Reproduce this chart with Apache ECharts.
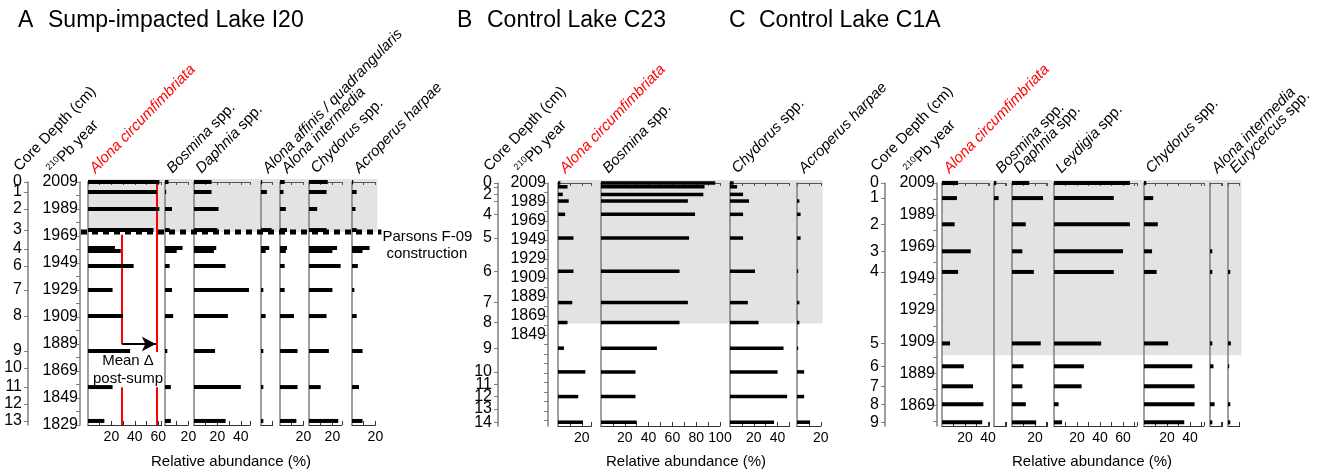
<!DOCTYPE html>
<html><head><meta charset="utf-8">
<script src="https://cdn.jsdelivr.net/npm/echarts@6/dist/echarts.min.js"></script>
<style>html,body{margin:0;padding:0;background:#fff}#c{width:1324px;height:471px}</style>
</head><body><div id="c"></div>
<script>
const BASE = 2009;
// ---------- Panel A: Sump-impacted Lake I20 ----------
const yearA = [2009, 2001.6, 1989, 1973.4, 1960.1, 1957.9, 1946.8, 1929, 1909.7, 1883.8, 1857.1, 1832];
const alonaCircA = [61, 59, 61, 56, 23, 28, 39, 21, 30, 36, 21, 14];
const bosminaA = [3, 1, 6, 4, 15, 10, 4, 6, 7, 2, 5, 5];
const daphniaA = [15, 15, 21, 20, 19, 17, 27, 47, 29, 18, 40, 27];
const alonaAffinisA = [1, 5, 0, 9, 7, 4, 0, 2, 4, 2, 2, 2];
const alonaIntermediaA = [4, 3, 5, 6, 6, 5, 4, 4, 12, 15, 15, 14];
const chydorusA = [16, 15, 7, 15, 24, 20, 27, 20, 15, 17, 10, 25];
const acroperusA = [1, 4, 3, 4, 15, 9, 5, 2, 4, 9, 6, 9];
const depthLabelA = ['0','1','2','3','4','6','7','8','9','10','11','12','13'];
const depthYearA = [2009, 2001.6, 1989, 1973.4, 1959.4, 1946.8, 1929, 1909.7, 1883.8, 1871.2, 1857.1, 1844.6, 1832];
const yearLabelA = [2009, 1989, 1969, 1949, 1929, 1909, 1889, 1869, 1849, 1829];
const sumpYearA = 1972;          // Parsons F-09 construction
const meanPreA = 29, meanPostA = 59;

// ---------- Panel B: Control Lake C23 ----------
const yearB = [2009, 2005, 1997, 1990, 1976, 1951, 1916, 1883, 1862, 1835, 1810, 1784, 1757];
const alonaCircB = [2, 8, 4, 9, 6, 13, 13, 12, 8, 5, 23, 17, 21];
const bosminaB = [96, 87, 86, 73, 79, 74, 66, 73, 66, 47, 29, 29, 30];
const chydorusB = [3, 6, 11, 16, 11, 11, 21, 15, 24, 45, 40, 48, 37];
const acroperusB = [0, 0, 0, 2, 3, 3, 1, 2, 2, 1, 6, 6, 11];
const depthLabelB = ['0','','2','','4','5','6','7','8','9','10','11','12','13','14'];
const depthYearB = [2009, 2005, 1997, 1990, 1976, 1951, 1916, 1883, 1862, 1835, 1810, 1797, 1784, 1771, 1757];
const yearLabelB = [2009, 1989, 1969, 1949, 1929, 1909, 1889, 1869, 1849];
const shadeYearB = 1861;

// ---------- Panel C: Control Lake C1A ----------
const yearC = [2009, 1999.5, 1983, 1966, 1953, 1908, 1893.6, 1881, 1869.7, 1858.3];
const alonaCircC = [14, 13, 11, 25, 14, 7, 19, 27, 36, 35];
const bosminaC = [2, 4, 0, 0, 0, 0, 0, 0, 0, 0];
const daphniaC = [15, 27, 12, 9, 19, 25, 10, 9, 12, 21];
const leydigiaC = [66, 52, 66, 60, 52, 41, 26, 24, 4, 7];
const chydorusC = [2, 8, 12, 7, 11, 21, 42, 44, 44, 35];
const alonaIntermediaC = [0, 0, 0, 2, 2, 2, 3, 0, 4, 2];
const eurycercusC = [0, 0, 0, 0, 2, 2.5, 1, 0, 2, 2];
const depthLabelC = ['0','1','2','3','4','5','6','7','8','9'];
const depthYearC = [2009, 1999.5, 1983, 1966, 1953, 1908, 1893.6, 1881, 1869.7, 1858.3];
const yearLabelC = [2009, 1989, 1969, 1949, 1929, 1909, 1889, 1869];
const shadeYearC = 1900.6;

// ---------- layout ----------
const FONT = '"Liberation Sans", Arial, Helvetica, sans-serif';
const ROT = 46;
const panels = [
  {title:'A', sub:'Sump-impacted Lake I20', titleX:18, top:182, height:243, tMax:180, depthX:28, ageX:80, pxPct:1.17, barH:4,
   years:yearA, depthLabels:depthLabelA, depthYears:depthYearA, yearLabels:yearLabelA, shadeYear:sumpYearA, xlabelX:231,
   cols:[
    {vals:alonaCircA, left:88, max:63, head:'{r|Alona circumfimbriata}'},
    {vals:bosminaA, left:165, max:20, head:'{i|Bosmina} spp.'},
    {vals:daphniaA, left:194, max:48, head:'{i|Daphnia} spp.'},
    {vals:alonaAffinisA, left:261, max:10, head:'{i|Alona affinis / quadrangularis}'},
    {vals:alonaIntermediaA, left:280, max:20, head:'{i|Alona intermedia}'},
    {vals:chydorusA, left:309, max:28, head:'{i|Chydorus} spp.'},
    {vals:acroperusA, left:352, max:20, head:'{i|Acroperus harpae}'}
   ]},
  {title:'B', sub:'Control Lake C23', titleX:457, top:183, height:243, tMax:256, depthX:498, ageX:548, pxPct:1.19, barH:3.5,
   years:yearB, depthLabels:depthLabelB, depthYears:depthYearB, yearLabels:yearLabelB, shadeYear:shadeYearB, xlabelX:686,
   cols:[
    {vals:alonaCircB, left:558, max:28, head:'{r|Alona circumfimbriata}'},
    {vals:bosminaB, left:601, max:100, head:'{i|Bosmina} spp.'},
    {vals:chydorusB, left:730, max:50, head:'{i|Chydorus} spp.'},
    {vals:acroperusB, left:797, max:20, head:'{i|Acroperus harpae}'}
   ]},
  {title:'C', sub:'Control Lake C1A', titleX:729, top:183, height:243, tMax:153, depthX:885, ageX:937, pxPct:1.15, barH:4,
   years:yearC, depthLabels:depthLabelC, depthYears:depthYearC, yearLabels:yearLabelC, shadeYear:shadeYearC, xlabelX:1092,
   cols:[
    {vals:alonaCircC, left:942, max:41, head:'{r|Alona circumfimbriata}'},
    {vals:bosminaC, left:994, max:11, head:'{i|Bosmina} spp.'},
    {vals:daphniaC, left:1012, max:31, head:'{i|Daphnia} spp.'},
    {vals:leydigiaC, left:1054, max:72, head:'{i|Leydigia} spp.'},
    {vals:chydorusC, left:1144, max:52, head:'{i|Chydorus} spp.'},
    {vals:alonaIntermediaC, left:1210, max:11, head:'{i|Alona intermedia}'},
    {vals:eurycercusC, left:1228, max:10, head:'{i|Eurycercus} spp.'}
   ]}
];

const grids = [], xAxis = [], yAxis = [], series = [];
const GRAY = '#7f7f7f';
const tOf = y => BASE - y;

panels.forEach((p) => {
  // depth axis (ticks from axis, labels drawn by a custom series so none are hidden)
  let g = grids.length;
  grids.push({left:p.depthX, top:p.top, width:1, height:p.height, outerBoundsMode:'none'});
  xAxis.push({gridIndex:g, type:'value', show:false, min:0, max:1});
  const dVals = p.depthYears.map(tOf);
  yAxis.push({gridIndex:g, type:'value', inverse:true, min:0, max:p.tMax, position:'left',
    axisLine:{show:true, onZero:false, lineStyle:{color:GRAY, width:1.5}},
    axisTick:{show:true, length:4, customValues:dVals, lineStyle:{color:GRAY}},
    axisLabel:{show:false}, splitLine:{show:false}});
  const labels = p.depthLabels;
  series.push({type:'custom', xAxisIndex:xAxis.length - 1, yAxisIndex:yAxis.length - 1, silent:true, clip:false, z:5,
    data: dVals.map((t) => [0, t]), encode:{x:0, y:1},
    renderItem:(params, api) => {
      const pt = api.coord([0, api.value(1)]);
      return {type:'text', x:pt[0] - 6, y:pt[1],
        style:{text:labels[params.dataIndex], fontSize:16, fontFamily:FONT, fill:'#000',
          align:'right', verticalAlign:'middle', textAlign:'right', textVerticalAlign:'middle'}};
    }});
  // age axis
  g = grids.length;
  grids.push({left:p.ageX, top:p.top, width:1, height:p.height, outerBoundsMode:'none'});
  xAxis.push({gridIndex:g, type:'value', show:false});
  const lVals = p.yearLabels.map(tOf);
  const tVals = [];
  for (let t = 0; t <= p.tMax; t += 10) tVals.push(t);
  yAxis.push({gridIndex:g, type:'value', inverse:true, min:0, max:p.tMax, position:'left',
    axisLine:{show:true, onZero:false, lineStyle:{color:GRAY, width:1.5}},
    axisTick:{show:true, length:4, customValues:tVals, lineStyle:{color:GRAY}},
    axisLabel:{show:true, customValues:lVals, margin:2, fontSize:16, fontFamily:FONT, color:'#000',
      showMinLabel:true, showMaxLabel:true, hideOverlap:false,
      formatter:(v) => String(Math.round(BASE - v))},
    splitLine:{show:false}});
  // taxa columns
  p.cols.forEach((c, ci) => {
    const gi = grids.length;
    c.grid = gi;
    grids.push({left:c.left, top:p.top, width:c.max * p.pxPct, height:p.height, outerBoundsMode:'none'});
    const xb = xAxis.length;
    xAxis.push({gridIndex:gi, type:'value', position:'bottom', min:0, max:c.max, interval:10,
      axisLine:{show:true, onZero:false, lineStyle:{color:'#333', width:1}},
      axisTick:{show:true, inside:true, length:4, lineStyle:{color:'#333'}},
      axisLabel:{show:true, margin:5, fontSize:14, fontFamily:FONT, color:'#000', showMinLabel:false,
        formatter:(v) => (v > 0 && v % 20 === 0) ? String(v) : ''},
      splitLine:{show:false}});
    xAxis.push({gridIndex:gi, type:'value', position:'top', min:0, max:c.max, interval:10,
      axisLine:{show:true, onZero:false, lineStyle:{color:'#555', width:1}},
      axisTick:{show:true, inside:true, length:3, lineStyle:{color:'#555'}},
      axisLabel:{show:false}, splitLine:{show:false}});
    const yi = yAxis.length;
    yAxis.push({gridIndex:gi, type:'value', inverse:true, min:0, max:p.tMax,
      axisLine:{show:true, onZero:false, lineStyle:{color:GRAY, width:1.5}},
      axisTick:{show:false}, axisLabel:{show:false}, splitLine:{show:false}});
    const h = p.barH;
    const s = {
      type:'custom', xAxisIndex:xb, yAxisIndex:yi, silent:true, clip:false, z:5,
      data: p.years.map((y, k) => [c.vals[k], tOf(y)]),
      encode:{x:0, y:1},
      renderItem:(params, api) => {
        const v = api.value(0), t = api.value(1);
        if (!(v > 0)) return null;
        const a = api.coord([0, t]), b = api.coord([v, t]);
        return {type:'rect', shape:{x:a[0], y:a[1] - h / 2, width:b[0] - a[0], height:h}, style:{fill:'#000'}};
      }
    };
    if (p.title === 'A' && ci === 0) {
      const black = {color:'#000', width:2};
      s.markLine = {
        silent:true, symbol:'none', animation:false, label:{show:false},
        lineStyle:{color:'#ff0000', width:2, type:'solid'},
        data:[
          [{coord:[meanPreA, 39]}, {coord:[meanPreA, 120]}],
          [{coord:[meanPreA, 152]}, {coord:[meanPreA, 180]}],
          [{coord:[meanPostA, 0]}, {coord:[meanPostA, 126]}],
          [{coord:[meanPostA, 152]}, {coord:[meanPostA, 180]}],
          [{coord:[meanPreA, 120], symbol:'none', lineStyle:black},
           {coord:[meanPostA - 1, 120], symbol:'arrow', symbolSize:[11, 14], lineStyle:black}]
        ]
      };
    }
    series.push(s);
  });
});

const chart = echarts.init(document.getElementById('c'), null, {renderer:'canvas', width:1324, height:471});
chart.setOption({animation:false, backgroundColor:'#fff', grid:grids, xAxis:xAxis, yAxis:yAxis, series:series});

// ---------- graphics (titles, headers, shading, annotations) ----------
const G = [];
const rich = {
  r:{fontStyle:'italic', fontSize:15, fontFamily:FONT, fill:'#ff0000'},
  i:{fontStyle:'italic', fontSize:15, fontFamily:FONT, fill:'#000'},
  s:{fontSize:9, fontFamily:FONT, fill:'#000', verticalAlign:'top'}
};
function txt(x, y, text, opt){
  opt = opt || {};
  return {type:'text', x:x, y:y, rotation:opt.rot || 0, z:opt.z || 20,
    style:{text:text, fontSize:opt.size || 15, fontFamily:FONT, fill:opt.fill || '#000',
      fontStyle:opt.style || 'normal',
      align:opt.align || 'left', verticalAlign:opt.valign || 'middle',
      textAlign:opt.align || 'left', textVerticalAlign:opt.valign || 'middle', rich:rich}};
}
const rad = ROT * Math.PI / 180;
const HX = 9;
panels.forEach((p) => {
  G.push(txt(p.titleX, 21, p.title, {size:23}));
  G.push(txt(p.titleX + 30, 21, p.sub, {size:23}));
  G.push(txt(p.depthX - 15 + HX, 174, 'Core Depth (cm)', {rot:rad, valign:'bottom'}));
  G.push(txt(p.ageX - 34 + HX, 176, '{s|210}Pb year', {rot:rad, valign:'bottom'}));
  p.cols.forEach((c) => G.push(txt(c.left + 1 + HX, 176, c.head, {rot:rad, valign:'bottom'})));
  G.push(txt(p.xlabelX, 462, 'Relative abundance (%)', {align:'center'}));
  // shading
  const first = p.cols[0], last = p.cols[p.cols.length - 1];
  const x0 = chart.convertToPixel({gridIndex:first.grid}, [0, 0])[0];
  const x1 = chart.convertToPixel({gridIndex:last.grid}, [last.max, 0])[0] + 2;
  const y1 = chart.convertToPixel({gridIndex:first.grid}, [0, tOf(p.shadeYear)])[1];
  G.push({type:'rect', z:-10, shape:{x:x0, y:p.top - 3, width:x1 - x0, height:y1 - p.top + 3}, style:{fill:'#e3e3e3'}});
  p.shadeX1 = x1; p.shadeY1 = y1;
});
// Panel A construction line + annotations
const pA = panels[0];
G.push({type:'line', z:30, shape:{x1:pA.ageX + 1, y1:pA.shadeY1, x2:pA.shadeX1 + 4, y2:pA.shadeY1},
  style:{stroke:'#000', lineWidth:5, lineDash:[6, 5]}});
G.push(txt(pA.shadeX1 + 5, pA.shadeY1 + 5, 'Parsons F-09'));
G.push(txt(pA.shadeX1 + 9, pA.shadeY1 + 22, 'construction'));
G.push(txt(128, 361, 'Mean Δ', {align:'center'}));
G.push(txt(128, 379, 'post-sump', {align:'center'}));
chart.setOption({graphic:G});
</script></body></html>
